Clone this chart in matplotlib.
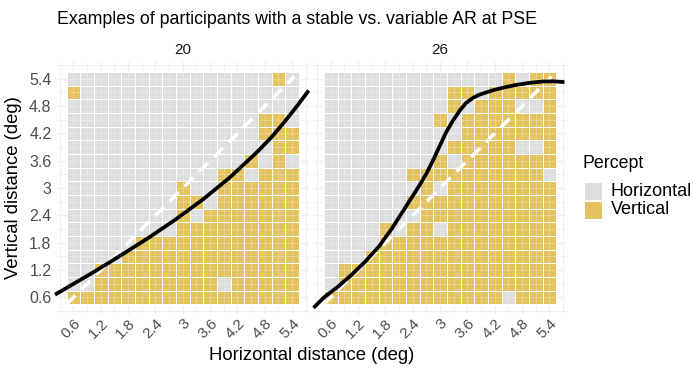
import numpy as np
import matplotlib.pyplot as plt
from matplotlib.colors import ListedColormap
from matplotlib.patches import Rectangle

plt.rcParams['font.family'] = ['Liberation Sans', 'DejaVu Sans']

# stimulus grid in degrees (same for both axes)
dist = [0.6, 0.9, 1.2, 1.5, 1.8, 2.1, 2.4, 2.7, 3.0, 3.3, 3.6, 3.9, 4.2, 4.5, 4.8, 5.1, 5.4]
tick_vals = [0.6, 1.2, 1.8, 2.4, 3.0, 3.6, 4.2, 4.8, 5.4]
tick_labels = ['0.6', '1.2', '1.8', '2.4', '3', '3.6', '4.2', '4.8', '5.4']

participants = ['20', '26']
percepts = ['Horizontal', 'Vertical']

# responses, one string per vertical distance from 5.4 down to 0.6
# 'V' = vertical percept, '.' = horizontal percept
resp_20 = [
    '...............V.',
    'V................',
    '.................',
    '..............VV.',
    '..............VVV',
    '...............VV',
    '.............V.V.',
    '...........VV.VVV',
    '........V..VVVVVV',
    '........VV.VVVVVV',
    '........V.VVVVVVV',
    '........VVVVVVVVV',
    '.....VVVVVVVVVVVV',
    '....VVVVVVVVVVVVV',
    '..VVVVVVVVVVVVVVV',
    '..VVVVVVVVV.VVVVV',
    'VVVVVVVVVVVVVVVVV',
]
resp_26 = [
    '.............V.VV',
    '.........VV.VVVVV',
    '.........V.VVV..V',
    '........V.VVVVVVV',
    '..........VVVVVVV',
    '.........VVVVV..V',
    '........V.VVVVVVV',
    '......VVVVVVVVVV.',
    '.......V.VVVVVVVV',
    '......VVVVVVVVVVV',
    '.......VVVVVVVVVV',
    '....V.VV.VVVVVVVV',
    '....VVVVVVVVVVVVV',
    '...VVVVVVVVVVVVVV',
    '.VVVVVVVVVVVVVVVV',
    '.VVVVVVVVVVVVVVVV',
    'VVVVVVVVVVVVV.VVV',
]

# fitted PSE curves
pse20_x = [0.23, 0.45, 1.05, 1.65, 2.25, 2.84, 3.44, 4.04, 4.64, 4.94, 5.23, 5.53, 5.74]
pse20_y = [0.68, 0.81, 1.16, 1.53, 1.91, 2.31, 2.75, 3.24, 3.80, 4.11, 4.45, 4.83, 5.11]
pse26_x = [0.25, 0.45, 0.75, 1.05, 1.35, 1.65, 1.94, 2.24, 2.54, 2.70, 2.84, 2.99,
           3.13, 3.28, 3.43, 3.57, 3.72, 3.86, 4.01, 4.15, 4.30, 4.45, 4.67, 4.96,
           5.25, 5.47, 5.69]
pse26_y = [0.40, 0.60, 0.83, 1.09, 1.38, 1.71, 2.11, 2.58, 3.05, 3.32, 3.60, 3.92,
           4.22, 4.48, 4.70, 4.87, 4.98, 5.05, 5.10, 5.145, 5.185, 5.22, 5.265, 5.31,
           5.34, 5.345, 5.33]

# identity line (equal horizontal and vertical distance)
ident = [0.45, 5.45]

gray = '#DEDEDE'
gold = '#E3C25F'
cmap = ListedColormap([gray, gold])

fig = plt.figure(figsize=(6.93, 3.68), dpi=100)
W, H = 693, 368
ax1 = fig.add_axes([57.1 / W, 1 - 313.8 / H, 251.4 / W, 251.4 / H])
ax2 = fig.add_axes([314.4 / W, 1 - 313.8 / H, 251.4 / W, 251.4 / H])

step = dist[1] - dist[0]
edges = np.append(np.array(dist) - step / 2, dist[-1] + step / 2)
minor = np.arange(0.3, 5.8, 0.6)

for ax, rows, cx, cy, name in [(ax1, resp_20, pse20_x, pse20_y, participants[0]),
                               (ax2, resp_26, pse26_x, pse26_y, participants[1])]:
    grid = np.array([[c == 'V' for c in r] for r in rows[::-1]], dtype=float)
    ax.pcolormesh(edges, edges, grid, cmap=cmap, vmin=0, vmax=1,
                  edgecolors='white', linewidth=0.6, zorder=2)
    # grid lines showing through the tiles
    for v in dist:
        ax.axvline(v, color='white', lw=0.6, alpha=0.3, zorder=3)
        ax.axhline(v, color='white', lw=0.6, alpha=0.3, zorder=3)
    ax.plot(ident, ident, color='white', lw=2.5, dashes=(3.6, 2.4), zorder=4,
            solid_capstyle='butt')
    ax.plot(cx, cy, color='black', lw=2.7, zorder=5, clip_on=False,
            solid_joinstyle='round')

    ax.set_xlim(0.24, 5.76)
    ax.set_ylim(0.24, 5.76)
    ax.set_xticks(tick_vals)
    ax.set_xticklabels(tick_labels, rotation=45, ha='right', va='top',
                       rotation_mode='anchor')
    ax.set_yticks(tick_vals)
    ax.set_yticklabels(tick_labels)
    ax.set_xticks(minor, minor=True)
    ax.set_yticks(minor, minor=True)
    ax.grid(which='major', color='#EBEBEB', lw=1.0, zorder=0)
    ax.grid(which='minor', color='#EBEBEB', lw=0.6, zorder=0)
    ax.set_axisbelow(True)
    ax.tick_params(which='both', length=0, labelsize=11.5, labelcolor='#4D4D4D')
    ax.tick_params(axis='x', pad=2, labelsize=11)
    ax.tick_params(axis='y', pad=4)
    for s in ax.spines.values():
        s.set_visible(False)
    ax.set_title(name, fontsize=11, color='#1A1A1A', pad=6)

ax2.set_yticklabels([])

fig.text(14 / W, 1 - 188 / H, 'Vertical distance (deg)', fontsize=13.3,
         ha='center', va='center', rotation=90)
fig.text(311.5 / W, 1 - 355 / H, 'Horizontal distance (deg)', fontsize=13.3,
         ha='center', va='center')
fig.text(57 / W, 1 - 20 / H, 'Examples of participants with a stable vs. variable AR at PSE',
         fontsize=12.8, ha='left', va='center')

# legend
fig.text(583 / W, 1 - 163 / H, 'Percept', fontsize=12.8, ha='left', va='center')
for i, (lab, col) in enumerate(zip(percepts, [gray, gold])):
    top = 183 + i * 18.5
    fig.add_artist(Rectangle((585 / W, 1 - (top + 17) / H), 17 / W, 17 / H,
                             transform=fig.transFigure, facecolor=col, edgecolor='none'))
    fig.text(611 / W, 1 - (top + 8.5) / H, lab, fontsize=13, ha='left', va='center')

fig.savefig('out.png', dpi=100)
